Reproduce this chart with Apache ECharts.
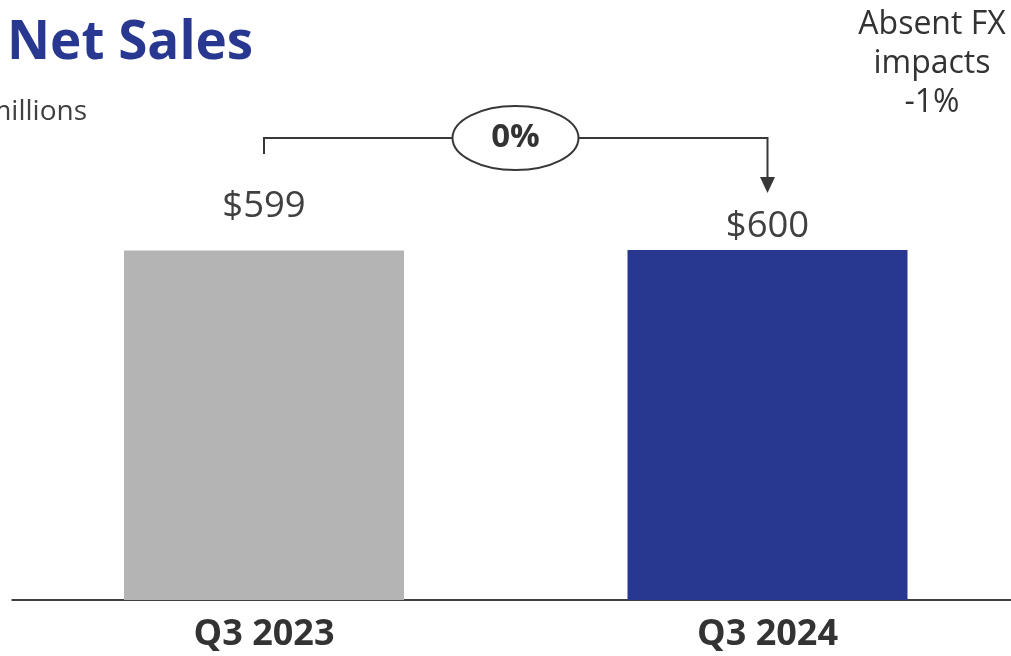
<!DOCTYPE html>
<html>
<head>
<meta charset="utf-8">
<script src="https://cdn.jsdelivr.net/npm/echarts@6/dist/echarts.min.js"></script>
<style>
  html, body { margin: 0; padding: 0; background: #fff; }
  #chart { width: 1011px; height: 656px; }
</style>
</head>
<body>
<div id="chart"></div>
<script>
// Quarterly net sales, $ in millions
const categories = ['Q3 2023', 'Q3 2024'];
const netSales = [599, 600];
const barColors = ['#b3b4b3', '#283891'];
const changeLabel = '0%';
const fxNote = ['Absent FX', 'impacts', '-1%'];
const titleText = 'Net Sales';
const unitText = '$ in millions';

const FONT = '"Open Sans", "Noto Sans", sans-serif';
const INK = '#404040';

const chart = echarts.init(document.getElementById('chart'), null, { renderer: 'canvas' });

// label offsets above each bar (the older value sits higher)
const labelGaps = [25.5, 4.5];

const option = {
  animation: false,
  backgroundColor: '#ffffff',
  grid: {
    left: 12.25, width: 1007, top: 250, bottom: 56,
    containLabel: false, outerBoundsMode: 'none'
  },
  xAxis: {
    type: 'category',
    data: categories,
    axisLine: { show: true, lineStyle: { color: INK, width: 2 } },
    axisTick: { show: false },
    axisLabel: {
      margin: 17,
      color: '#333333',
      fontFamily: FONT,
      fontWeight: 'bold',
      fontSize: 36
    }
  },
  yAxis: {
    type: 'value',
    min: 0,
    max: 600,
    show: false,
    splitLine: { show: false }
  },
  series: [{
    type: 'bar',
    barWidth: 280,
    data: netSales.map((v, i) => ({
      value: v,
      itemStyle: { color: barColors[i] },
      label: { distance: labelGaps[i] }
    })),
    label: {
      show: true,
      position: 'top',
      formatter: p => '$' + p.value,
      color: INK,
      fontFamily: FONT,
      fontSize: 36.5
    }
  }]
};
chart.setOption(option);

// annotations: title, unit note, FX note and the change bracket between bars
const x0 = chart.convertToPixel({ xAxisIndex: 0 }, categories[0]);
const x1 = chart.convertToPixel({ xAxisIndex: 0 }, categories[1]);
const bracketY = 138;
const ovalX = 515.5, ovalRx = 63, ovalRy = 32;
const strokeCol = '#383838';

chart.setOption({
  graphic: [
    {
      type: 'text', x: 7, y: 44,
      style: { text: titleText, fill: '#283891', font: 'bold 53px ' + FONT, verticalAlign: 'middle' }
    },
    {
      type: 'text', x: 87, y: 112,
      style: { text: unitText, fill: INK, font: '28px ' + FONT, align: 'right', verticalAlign: 'middle' }
    },
    {
      type: 'text', x: 932, y: 5,
      style: {
        text: fxNote.join('\n'), fill: '#333333', font: '32px ' + FONT,
        align: 'center', verticalAlign: 'top', lineHeight: 39
      }
    },
    {
      type: 'polyline',
      shape: { points: [[x0, 154], [x0, bracketY], [ovalX - ovalRx, bracketY]] },
      style: { stroke: strokeCol, lineWidth: 2, fill: null }
    },
    {
      type: 'polyline',
      shape: { points: [[ovalX + ovalRx, bracketY], [x1, bracketY], [x1, 180]] },
      style: { stroke: strokeCol, lineWidth: 2, fill: null }
    },
    {
      type: 'polygon',
      shape: { points: [[x1 - 7.5, 177], [x1 + 7.5, 177], [x1, 193]] },
      style: { fill: strokeCol }
    },
    {
      type: 'ellipse',
      shape: { cx: ovalX, cy: bracketY, rx: ovalRx, ry: ovalRy },
      style: { stroke: strokeCol, lineWidth: 2, fill: '#ffffff' }
    },
    {
      type: 'text', x: ovalX, y: bracketY,
      style: {
        text: changeLabel, fill: '#333333', font: 'bold 33px ' + FONT,
        align: 'center', verticalAlign: 'middle'
      }
    }
  ]
});
</script>
</body>
</html>
